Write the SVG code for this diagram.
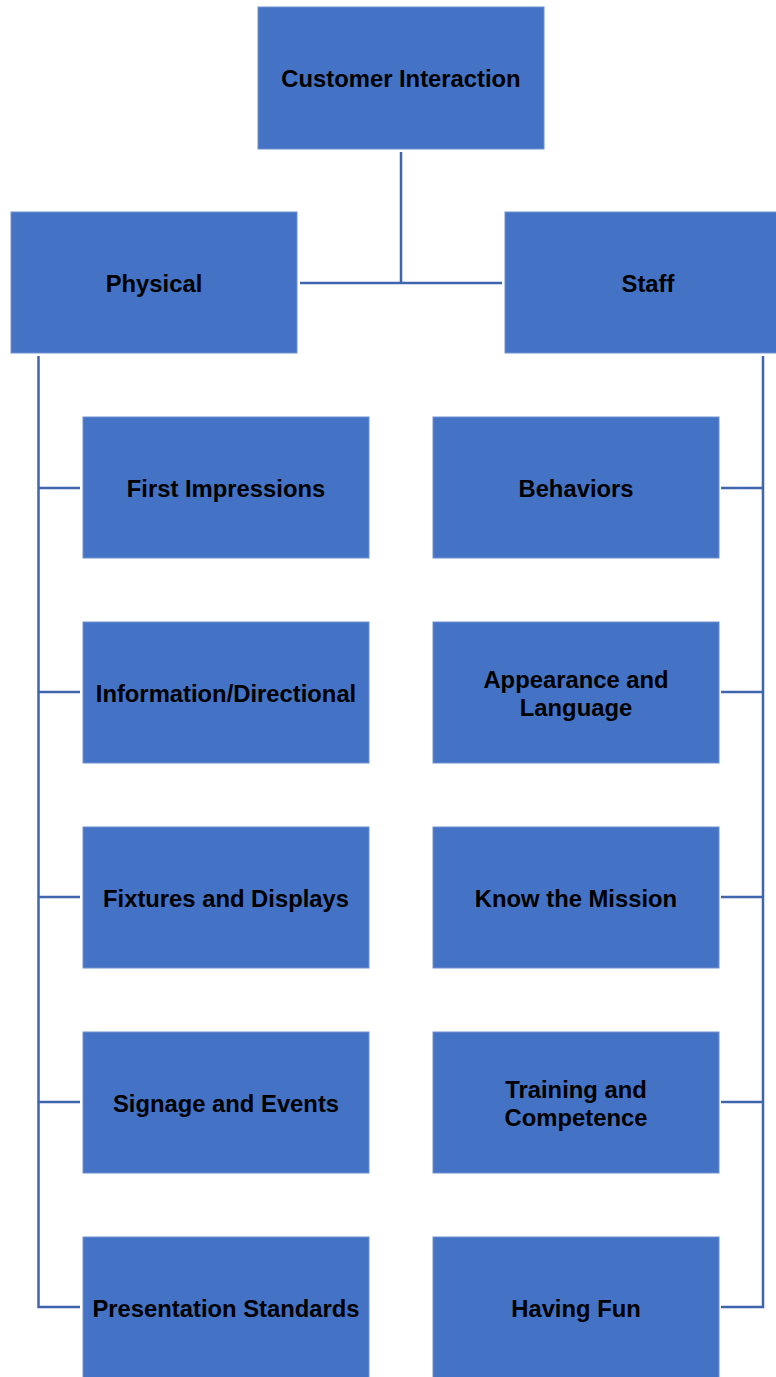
<svg xmlns="http://www.w3.org/2000/svg" width="776" height="1377" viewBox="0 0 776 1377">
<style>
.box{fill:#4472C4;stroke:#6E92D2;stroke-width:1}
.t{font-family:"Liberation Sans",Arial,sans-serif;font-weight:bold;font-size:23.8px;fill:#000;text-anchor:middle}
.c{fill:none;stroke:#3F65AD;stroke-width:2.5}
</style>
<rect x="0" y="0" width="776" height="1377" fill="#fff"/>
<g id="connectors">
<path class="c" d="M401 152V283M300 283H502"/>
<path class="c" d="M38.5 356V1307H80M38.5 488H80M38.5 692H80M38.5 897H80M38.5 1102H80"/>
<path class="c" d="M763 356V1307H721M763 488H721M763 692H721M763 897H721M763 1102H721"/>
</g>
<g id="customer-interaction"><rect class="box" x="258" y="7" width="286" height="142"/><text class="t" x="401" y="87">Customer Interaction</text></g>
<g id="physical"><rect class="box" x="11" y="212" width="286" height="141"/><text class="t" x="154" y="292">Physical</text></g>
<g id="staff"><rect class="box" x="505" y="212" width="275" height="141"/><text class="t" x="648" y="292">Staff</text></g>
<g id="first-impressions"><rect class="box" x="83" y="417" width="286" height="141"/><text class="t" x="226" y="497">First Impressions</text></g>
<g id="information-directional"><rect class="box" x="83" y="622" width="286" height="141"/><text class="t" x="226" y="702">Information/Directional</text></g>
<g id="fixtures-displays"><rect class="box" x="83" y="827" width="286" height="141"/><text class="t" x="226" y="907">Fixtures and Displays</text></g>
<g id="signage-events"><rect class="box" x="83" y="1032" width="286" height="141"/><text class="t" x="226" y="1112">Signage and Events</text></g>
<g id="presentation-standards"><rect class="box" x="83" y="1237" width="286" height="141"/><text class="t" x="226" y="1317">Presentation Standards</text></g>
<g id="behaviors"><rect class="box" x="433" y="417" width="286" height="141"/><text class="t" x="576" y="497">Behaviors</text></g>
<g id="appearance-language"><rect class="box" x="433" y="622" width="286" height="141"/><text class="t" x="576" y="688">Appearance and</text><text class="t" x="576" y="716">Language</text></g>
<g id="know-mission"><rect class="box" x="433" y="827" width="286" height="141"/><text class="t" x="576" y="907">Know the Mission</text></g>
<g id="training-competence"><rect class="box" x="433" y="1032" width="286" height="141"/><text class="t" x="576" y="1098">Training and</text><text class="t" x="576" y="1126">Competence</text></g>
<g id="having-fun"><rect class="box" x="433" y="1237" width="286" height="141"/><text class="t" x="576" y="1317">Having Fun</text></g>
</svg>
